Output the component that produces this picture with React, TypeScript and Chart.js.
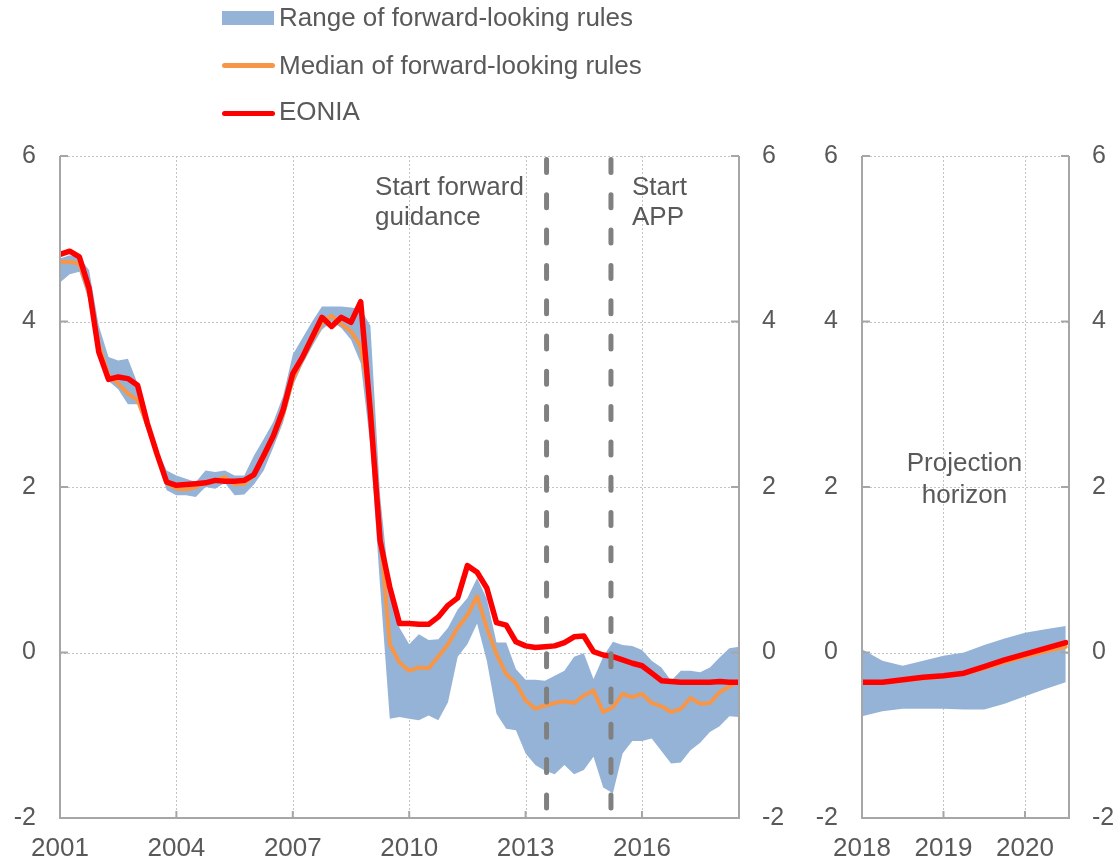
import React, { useEffect, useRef } from "react";
import { Chart, registerables } from "chart.js";

Chart.register(...registerables);

const FONT = '"Liberation Sans", Arial, Helvetica, sans-serif';
const TEXT = "#595959";
const BLUE = "#95B3D7";
const ORANGE = "#F79646";
const RED = "#FF0000";
const AXIS = "#a6a6a6";
const GRID = "#c4c4c4";

// ---------- Historical period (quarterly, first observation 2001 Q1) ----------
const histStart = 2001;
const histEonia = [
  4.81, 4.85, 4.78, 4.4, 3.63, 3.3, 3.33, 3.31, 3.23, 2.77, 2.4, 2.06, 2.02, 2.03, 2.04, 2.05,
  2.08, 2.07, 2.07, 2.08, 2.15, 2.38, 2.62, 2.93, 3.37, 3.57, 3.81, 4.05, 3.94, 4.05, 3.99, 4.24,
  2.9, 1.35, 0.79, 0.35, 0.35, 0.34, 0.34, 0.43, 0.57, 0.66, 1.05, 0.97, 0.78, 0.36, 0.33, 0.13,
  0.08, 0.06, 0.07, 0.08, 0.12, 0.19, 0.2, 0.01, -0.03, -0.05, -0.09, -0.13, -0.16, -0.25, -0.34,
  -0.35, -0.36, -0.36, -0.36, -0.36, -0.35, -0.36, -0.36,
];
const histMedian = [
  4.72, 4.72, 4.7, 4.35, 3.72, 3.35, 3.25, 3.13, 3.05, 2.75, 2.4, 2.05, 1.98, 1.97, 2.0, 2.06,
  2.08, 2.12, 2.03, 2.04, 2.15, 2.35, 2.6, 2.88, 3.3, 3.55, 3.78, 3.98, 4.07, 3.97, 3.88, 3.7,
  3.05, 1.45, 0.1, -0.12, -0.22, -0.18, -0.19, -0.05, 0.1, 0.3, 0.45, 0.68, 0.3, -0.02, -0.26,
  -0.37, -0.58, -0.68, -0.64, -0.61, -0.59, -0.61, -0.52, -0.46, -0.72, -0.66, -0.5, -0.54, -0.5,
  -0.61, -0.65, -0.72, -0.68, -0.55, -0.62, -0.61, -0.48, -0.41, -0.34,
];
const histLow = [
  4.47, 4.57, 4.6, 4.25, 3.6, 3.28, 3.18, 3.0, 3.0, 2.68, 2.33, 1.96, 1.9, 1.9, 1.88, 2.0,
  1.98, 2.05, 1.9, 1.91, 2.03, 2.2, 2.48, 2.78, 3.22, 3.48, 3.7, 3.9, 4.0, 3.92, 3.78, 3.5,
  2.5, 0.8, -0.8, -0.78, -0.8, -0.82, -0.76, -0.82, -0.6, -0.05, 0.1, 0.35, -0.1, -0.74, -0.92,
  -0.94, -1.22, -1.36, -1.43, -1.47, -1.36, -1.47, -1.42, -1.26, -1.63, -1.7, -1.22, -1.07, -1.07,
  -1.04, -1.19, -1.34, -1.33, -1.18, -1.09, -0.96, -0.89, -0.77, -0.78,
];
const histHigh = [
  4.76, 4.8, 4.78, 4.62, 3.95, 3.57, 3.53, 3.55, 3.25, 2.82, 2.45, 2.2, 2.14, 2.1, 2.06, 2.2,
  2.18, 2.2, 2.14, 2.14, 2.38, 2.58, 2.79, 3.1, 3.6, 3.8, 4.0, 4.18, 4.18, 4.18, 4.17, 4.15,
  3.95, 1.9, 0.75, 0.3, 0.1, 0.22, 0.15, 0.16, 0.3, 0.52, 0.66, 0.9, 0.65, 0.12, 0.12, -0.2,
  -0.33, -0.33, -0.34, -0.28, -0.22, -0.05, -0.01, -0.32, -0.05, 0.13, 0.09, 0.08, 0.03, -0.1,
  -0.18, -0.34, -0.22, -0.22, -0.24, -0.18, -0.06, 0.05, 0.07,
];

// ---------- Projection horizon (quarterly, first observation 2018 Q1) ----------
const projStart = 2018;
const projEonia = [-0.36, -0.36, -0.33, -0.3, -0.28, -0.25, -0.17, -0.09, -0.02, 0.05, 0.12];
const projMedian = [-0.37, -0.37, -0.34, -0.31, -0.29, -0.26, -0.19, -0.12, -0.05, 0.01, 0.07];
const projLow = [-0.77, -0.71, -0.68, -0.68, -0.68, -0.69, -0.69, -0.62, -0.53, -0.44, -0.36];
const projHigh = [0.04, -0.1, -0.16, -0.1, -0.04, 0.0, 0.09, 0.17, 0.24, 0.28, 0.32];

// ---------- Axes, events, labels ----------
const histTicks = [2001, 2004, 2007, 2010, 2013, 2016];
const projTicks = [2018, 2019, 2020];
const yTicks = [-2, 0, 2, 4, 6];
const eventDates = [2013.54, 2015.2];
const eventLabels = [
  ["Start forward", "guidance"],
  ["Start", "APP"],
];
const projLabel = ["Projection", "horizon"];
const legendLabels = [
  "Range of forward-looking rules",
  "Median of forward-looking rules",
  "EONIA",
];

const toPoints = (vals: number[], start: number) =>
  vals.map((v, i) => ({ x: start + i / 4, y: v }));

function makeDatasets(start: number, low: number[], high: number[], med: number[], eon: number[]) {
  const base = { pointRadius: 0, pointHoverRadius: 0, tension: 0, borderJoinStyle: "round", borderCapStyle: "round" };
  return [
    { ...base, label: "low", data: toPoints(low, start), borderColor: "rgba(0,0,0,0)", borderWidth: 0, fill: false, order: 4 },
    { ...base, label: legendLabels[0], data: toPoints(high, start), borderColor: "rgba(0,0,0,0)", borderWidth: 0, backgroundColor: BLUE, fill: "-1", order: 3 },
    { ...base, label: legendLabels[1], data: toPoints(med, start), borderColor: ORANGE, borderWidth: 4, fill: false, order: 1 },
    { ...base, label: legendLabels[2], data: toPoints(eon, start), borderColor: RED, borderWidth: 5.5, fill: false, order: 0 },
  ];
}

function line(ctx: any, x1: number, y1: number, x2: number, y2: number) {
  ctx.beginPath();
  ctx.moveTo(x1, y1);
  ctx.lineTo(x2, y2);
  ctx.stroke();
}

function framePlugin(xTicks: number[], kind: "hist" | "proj") {
  return {
    id: "frame_" + kind,
    beforeDatasetsDraw(chart: any) {
      const { ctx, chartArea: a, scales } = chart;
      const xs = scales.x;
      const ys = scales.y;
      ctx.save();
      ctx.strokeStyle = GRID;
      ctx.lineWidth = 1;
      ctx.setLineDash([2, 2]);
      for (const v of yTicks) {
        if (v === yTicks[0]) continue;
        const y = Math.round(ys.getPixelForValue(v)) + 0.5;
        line(ctx, a.left, y, a.right, y);
      }
      for (const v of xTicks) {
        const x = Math.round(xs.getPixelForValue(v)) + 0.5;
        if (Math.abs(x - a.left) < 3) continue;
        line(ctx, x, a.top, x, a.bottom);
      }
      ctx.restore();
    },
    afterDatasetsDraw(chart: any) {
      const { ctx, chartArea: a, scales } = chart;
      const xs = scales.x;
      const ys = scales.y;
      ctx.save();
      if (kind === "hist") {
        ctx.strokeStyle = "#808080";
        ctx.lineWidth = 5;
        ctx.lineCap = "round";
        ctx.setLineDash([13, 22.3]);
        for (const d of eventDates) {
          const x = xs.getPixelForValue(d);
          line(ctx, x, a.top + 3.5, x, a.bottom + 3);
        }
      }
      ctx.setLineDash([]);
      ctx.lineCap = "butt";
      ctx.strokeStyle = AXIS;
      ctx.lineWidth = 2;
      line(ctx, a.left, a.top, a.left, a.bottom + 1);
      line(ctx, a.right, a.top, a.right, a.bottom + 1);
      line(ctx, a.left - 1, a.bottom, a.right + 1, a.bottom);
      for (const v of yTicks) {
        const y = ys.getPixelForValue(v);
        line(ctx, a.left, y, a.left + 8, y);
        line(ctx, a.right - 8, y, a.right, y);
      }
      for (const v of xTicks) {
        const x = xs.getPixelForValue(v);
        line(ctx, x, a.bottom, x, a.bottom - 7);
      }
      ctx.restore();
    },
    afterDraw(chart: any) {
      const { ctx, chartArea: a, scales } = chart;
      const xs = scales.x;
      const ys = scales.y;
      ctx.save();
      ctx.fillStyle = TEXT;
      ctx.font = `26px ${FONT}`;
      ctx.textBaseline = "alphabetic";
      if (kind === "hist") {
        ctx.textAlign = "left";
        const x1 = xs.getPixelForValue(eventDates[0]) - 171.5;
        const x2 = xs.getPixelForValue(eventDates[1]) + 21;
        ctx.fillText(eventLabels[0][0], x1, a.top + 39);
        ctx.fillText(eventLabels[0][1], x1, a.top + 69);
        ctx.fillText(eventLabels[1][0], x2, a.top + 39);
        ctx.fillText(eventLabels[1][1], x2, a.top + 69);
      } else {
        ctx.textAlign = "center";
        const cx = (a.left + a.right) / 2 - 1;
        const y0 = ys.getPixelForValue(2);
        ctx.fillText(projLabel[0], cx, y0 - 16);
        ctx.fillText(projLabel[1], cx, y0 + 15.5);
      }
      ctx.restore();
    },
  };
}

function makeConfig(opts: any) {
  const tickFont = { family: FONT, size: 25 };
  const yCommon = {
    type: "linear",
    min: yTicks[0],
    max: yTicks[yTicks.length - 1],
    afterBuildTicks: (s: any) => {
      s.ticks = yTicks.map((v) => ({ value: v }));
    },
    grid: { display: false, drawTicks: false },
    border: { display: false },
  };
  return {
    type: "line",
    data: { datasets: opts.datasets },
    options: {
      responsive: false,
      animation: false,
      events: [],
      layout: { padding: { top: 156, left: 0, right: 0, bottom: 0 } },
      plugins: { legend: { display: false }, tooltip: { enabled: false } },
      scales: {
        x: {
          type: "linear",
          min: opts.xMin,
          max: opts.xMax,
          afterBuildTicks: (s: any) => {
            s.ticks = opts.xTicks.map((v: number) => ({ value: v }));
          },
          afterFit: (s: any) => {
            s.height = 45;
          },
          grid: { display: false, drawTicks: false },
          border: { display: false },
          ticks: {
            padding: 15,
            autoSkip: false,
            maxRotation: 0,
            color: TEXT,
            font: { family: FONT, size: 26 },
            callback: (v: any) => String(v),
          },
        },
        y: {
          ...yCommon,
          position: "left",
          afterFit: (s: any) => {
            s.width = opts.leftW;
          },
          ticks: { padding: opts.leftPad, color: TEXT, font: tickFont, callback: (v: any) => String(v) },
        },
        y2: {
          ...yCommon,
          position: "right",
          afterFit: (s: any) => {
            s.width = opts.rightW;
          },
          ticks: { padding: opts.rightPad, color: TEXT, font: tickFont, callback: (v: any) => String(v) },
        },
      },
    },
    plugins: [framePlugin(opts.xTicks, opts.kind)],
  };
}

export default function App() {
  const histRef = useRef<HTMLCanvasElement>(null);
  const projRef = useRef<HTMLCanvasElement>(null);

  useEffect(() => {
    const histChart = new Chart(
      histRef.current as any,
      makeConfig({
        kind: "hist",
        datasets: makeDatasets(histStart, histLow, histHigh, histMedian, histEonia),
        xMin: 2001,
        xMax: 2018.5,
        xTicks: histTicks,
        leftW: 60,
        leftPad: 24,
        rightW: 61,
        rightPad: 23,
      }) as any
    );
    const projChart = new Chart(
      projRef.current as any,
      makeConfig({
        kind: "proj",
        datasets: makeDatasets(projStart, projLow, projHigh, projMedian, projEonia),
        xMin: 2018,
        xMax: 2020.54,
        xTicks: projTicks,
        leftW: 62,
        leftPad: 24,
        rightW: 48,
        rightPad: 23,
      }) as any
    );
    return () => {
      histChart.destroy();
      projChart.destroy();
    };
  }, []);

  const textStyle: React.CSSProperties = {
    position: "absolute",
    left: 279,
    fontFamily: FONT,
    fontSize: 26,
    lineHeight: "30px",
    color: TEXT,
    whiteSpace: "nowrap",
  };

  return (
    <div style={{ position: "absolute", left: 0, top: 0, width: 1117, height: 863, background: "#fff", overflow: "hidden" }}>
      <canvas ref={histRef} width={800} height={863} style={{ position: "absolute", left: 0, top: 0, width: 800, height: 863 }} />
      <canvas ref={projRef} width={317} height={863} style={{ position: "absolute", left: 800, top: 0, width: 317, height: 863 }} />
      <div style={{ position: "absolute", left: 222, top: 11, width: 52, height: 14, background: BLUE }} />
      <div style={{ position: "absolute", left: 222, top: 62.5, width: 53, height: 5, borderRadius: 3, background: ORANGE }} />
      <div style={{ position: "absolute", left: 222, top: 110.5, width: 53, height: 5.5, borderRadius: 3, background: RED }} />
      <div style={{ ...textStyle, top: 2 }}>{legendLabels[0]}</div>
      <div style={{ ...textStyle, top: 49.5 }}>{legendLabels[1]}</div>
      <div style={{ ...textStyle, top: 96 }}>{legendLabels[2]}</div>
    </div>
  );
}
